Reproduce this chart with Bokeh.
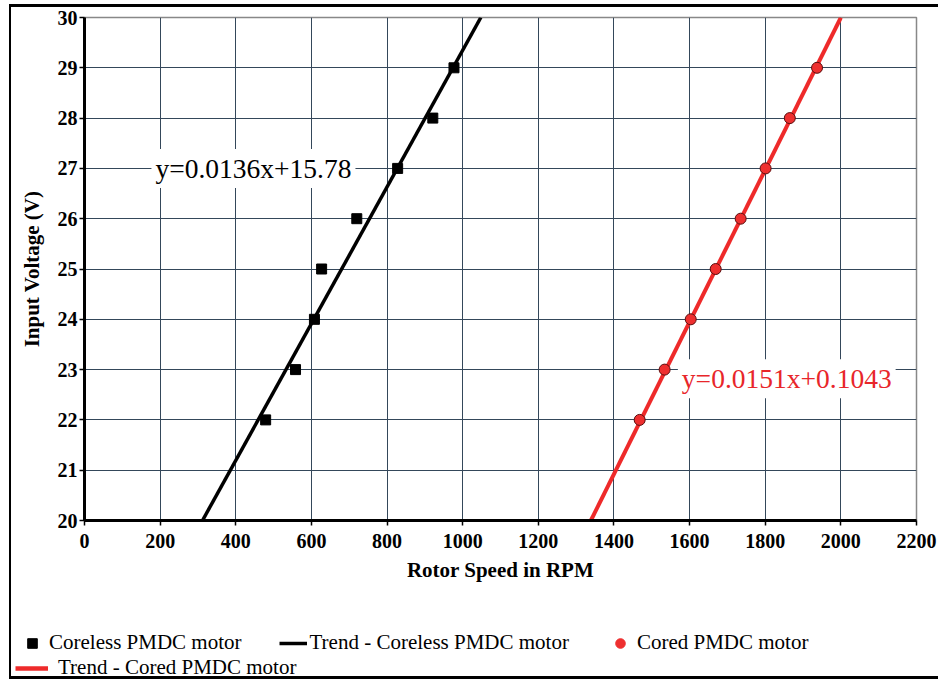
from bokeh.plotting import figure
from bokeh.layouts import column
from bokeh.models import (Range1d, FixedTicker, Label, Legend, LegendItem)
from bokeh.embed import file_html
from bokeh.resources import INLINE

# ---- data ----
coreless_rpm = [479, 558, 608, 627, 720, 828, 921, 977]
coreless_v = [22, 23, 24, 25, 26, 27, 28, 29]

cored_rpm = [1468, 1534, 1603, 1669, 1735, 1801, 1865, 1937]
cored_v = [22, 23, 24, 25, 26, 27, 28, 29]

trend_coreless_x = [312, 1048]
trend_coreless_y = [20, 30]
trend_cored_x = [1339, 2000]
trend_cored_y = [20, 30]

x_ticks = [0, 200, 400, 600, 800, 1000, 1200, 1400, 1600, 1800, 2000, 2200]
y_ticks = [20, 21, 22, 23, 24, 25, 26, 27, 28, 29, 30]

eq_coreless = "y=0.0136x+15.78"
eq_cored = "y=0.0151x+0.1043"

SERIF = "Liberation Serif"
GRID = "#34475a"
RED = "#ee2a2a"

# ---------------- main chart ----------------
p = figure(width=938, height=600, output_backend="svg", toolbar_location=None,
           x_range=Range1d(0, 2200), y_range=Range1d(20, 30),
           min_border_left=84, min_border_right=22, min_border_top=17,
           min_border_bottom=80)
p.border_fill_color = None
p.background_fill_color = "white"
p.outline_line_color = "#888888"
p.outline_line_width = 1.5
p.styles = {
    "background-color": "white",
    "background-image": "linear-gradient(#000,#000), linear-gradient(#000,#000)",
    "background-size": "929px 3px, 2px 596px",
    "background-position": "9px 4px, 9px 4px",
    "background-repeat": "no-repeat",
}

p.xgrid.ticker = FixedTicker(ticks=x_ticks)
p.ygrid.ticker = FixedTicker(ticks=y_ticks)
for g in (p.xgrid, p.ygrid):
    g.grid_line_color = GRID
    g.grid_line_width = 1

p.xaxis.ticker = FixedTicker(ticks=x_ticks)
p.yaxis.ticker = FixedTicker(ticks=y_ticks)
for ax in (p.xaxis, p.yaxis):
    ax.axis_line_color = "black"
    ax.axis_line_width = 3
    ax.major_tick_line_color = "black"
    ax.major_tick_line_width = 1.5
    ax.major_tick_out = 5
    ax.major_tick_in = 0
    ax.minor_tick_line_color = None
    ax.major_label_text_font = SERIF
    ax.major_label_text_font_style = "bold"
    ax.major_label_text_font_size = "20px"
    ax.major_label_text_color = "black"
    ax.axis_label_text_font = SERIF
    ax.axis_label_text_font_style = "bold"
    ax.axis_label_text_font_size = "21px"
    ax.axis_label_text_color = "black"
p.xaxis.axis_label = "Rotor Speed in RPM"
p.yaxis.axis_label = "Input Voltage (V)"
p.xaxis.major_label_standoff = 8
p.xaxis.axis_label_standoff = 7
p.yaxis.major_label_standoff = 2
p.yaxis.axis_label_standoff = 11

p.line(trend_coreless_x, trend_coreless_y, line_color="black", line_width=3.5)
p.line(trend_cored_x, trend_cored_y, line_color=RED, line_width=4)
p.scatter(coreless_rpm, coreless_v, marker="square", size=10,
          fill_color="black", line_color="black")
p.scatter(cored_rpm, cored_v, marker="circle", size=11,
          fill_color="#ee2f2f", line_color="#5a0e0e", line_width=1)

lab1 = Label(x=177, y=27.0, text=eq_coreless, text_baseline="middle",
             text_font=SERIF, text_font_size="27.5px", text_color="black",
             background_fill_color="white")
lab2 = Label(x=1569, y=22.82, text=eq_cored, text_baseline="middle",
             text_font=SERIF, text_font_size="27.5px", text_color="#e8262a",
             background_fill_color="white")
for lab in (lab1, lab2):
    if "padding" in lab.properties():
        lab.padding = 4
    p.add_layout(lab)

# ---------------- legend strip ----------------
lg = figure(width=938, height=79, output_backend="svg", toolbar_location=None,
            x_range=Range1d(0, 938), y_range=Range1d(1000, 1079),
            x_axis_location=None, y_axis_location=None,
            min_border=0, min_border_left=0, min_border_right=0,
            min_border_top=0, min_border_bottom=0)
for fig in (p, lg):
    if "frame_align" in fig.properties():
        fig.frame_align = False
lg.grid.visible = False
lg.outline_line_color = None
lg.border_fill_color = None
lg.background_fill_color = None
lg.styles = {
    "background-color": "white",
    "background-image": "linear-gradient(#000,#000), linear-gradient(#000,#000)",
    "background-size": "2px 79px, 929px 3px",
    "background-position": "9px 0px, 9px 76px",
    "background-repeat": "no-repeat",
}
# legend renderers (same series, outside this strip's ranges so only the keys show)
k_c = lg.scatter(coreless_rpm, coreless_v, marker="square", size=10,
                 fill_color="black", line_color="black")
k_tc = lg.line(trend_coreless_x, trend_coreless_y, line_color="black", line_width=3.5)
k_d = lg.scatter(cored_rpm, cored_v, marker="circle", size=11,
                 fill_color="#ee2f2f", line_color="#ee2f2f", line_width=1)
k_td = lg.line(trend_cored_x, trend_cored_y, line_color=RED, line_width=4.5)

common = dict(orientation="horizontal", glyph_height=24, label_height=24,
              padding=0, margin=0, border_line_color=None,
              background_fill_alpha=0, label_text_font=SERIF,
              label_text_font_size="21px", label_text_color="black")
leg1 = Legend(items=[LegendItem(label="Coreless PMDC motor", renderers=[k_c]),
                     LegendItem(label="Trend - Coreless PMDC motor", renderers=[k_tc]),
                     LegendItem(label="Cored PMDC motor", renderers=[k_d])],
              location=(18, 24), glyph_width=28, label_standoff=3,
              spacing=37, **common)
leg2 = Legend(items=[LegendItem(label="Trend - Cored PMDC motor", renderers=[k_td])],
              location=(15, -1), glyph_width=33, label_standoff=10,
              spacing=0, **common)
lg.add_layout(leg1, "center")
lg.add_layout(leg2, "center")

page = column(p, lg, spacing=0)
open("out.html", "w").write(file_html(page, INLINE))
